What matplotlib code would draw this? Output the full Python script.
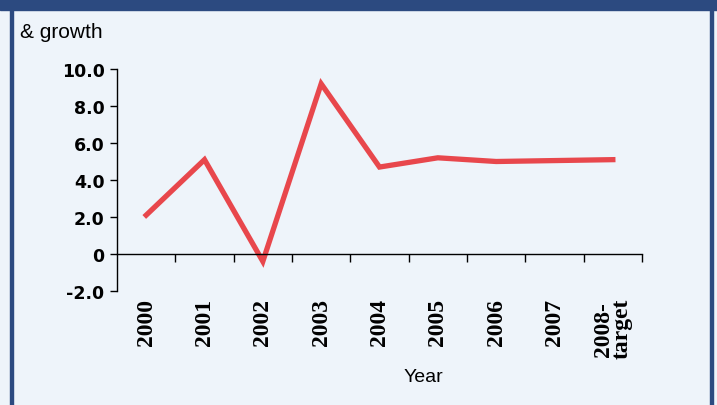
import matplotlib.pyplot as plt
from matplotlib.patches import Rectangle

years = ['2000', '2001', '2002', '2003', '2004', '2005', '2006', '2007', '2008-\ntarget']
growth = [2.1, 5.1, -0.4, 9.2, 4.7, 5.2, 5.0, 5.05, 5.1]
yticks = [-2, 0, 2, 4, 6, 8, 10]
ytick_labels = ['-2.0', '0', '2.0', '4.0', '6.0', '8.0', '10.0']

bg = '#eef4fa'
navy = '#2c4a80'

fig = plt.figure(figsize=(7.17, 4.06), dpi=100)
fig.patch.set_facecolor(bg)

# frame: top band and side borders
fig.patches.append(Rectangle((0, 1 - 11/406), 1, 11/406, transform=fig.transFigure,
                             color=navy, zorder=0))
fig.patches.append(Rectangle((10/717, 0), 2.5/717, 1, transform=fig.transFigure,
                             color=navy, zorder=0))
fig.patches.append(Rectangle((710/717, 0), 2.5/717, 1, transform=fig.transFigure,
                             color=navy, zorder=0))

ax = fig.add_axes([117/717, 1 - 292/406, 525/717, 222/406])
ax.set_facecolor(bg)

x = list(range(len(years)))
ax.plot(x, growth, color='#e8474c', lw=3.8, solid_joinstyle='miter')

ax.set_xlim(-0.5, len(years) - 0.5)
ax.set_ylim(-2, 10)
ax.spines['top'].set_visible(False)
ax.spines['right'].set_visible(False)
ax.spines['bottom'].set_position(('data', 0))
ax.spines['left'].set_linewidth(1.0)
ax.spines['bottom'].set_linewidth(1.0)

ax.set_yticks(yticks)
ax.set_yticklabels(ytick_labels, fontfamily='DejaVu Sans', fontweight='bold', fontsize=12.5)
ax.tick_params(axis='y', direction='out', length=5, width=1, pad=4)

# boundary ticks on the zero line
ax.set_xticks([i + 0.5 for i in x])
ax.set_xticklabels([])
ax.tick_params(axis='x', direction='out', length=6, width=1)

# category labels at the bottom
sec = ax.secondary_xaxis('bottom')
sec.set_xticks(x)
sec.set_xticklabels(years, rotation=90, fontfamily='Liberation Serif', fontweight='bold',
                    fontsize=17, linespacing=0.8, va='top')
sec.tick_params(length=0, pad=5)
sec.spines['bottom'].set_visible(False)

fig.text(20/717, 1 - 32/406, '& growth', fontsize=15, fontfamily='Liberation Sans',
         va='center', ha='left')
fig.text(423/717, 1 - 378/406, 'Year', fontsize=14, fontfamily='Liberation Sans',
         va='center', ha='center')

fig.savefig('out.png', dpi=100, facecolor=bg)
